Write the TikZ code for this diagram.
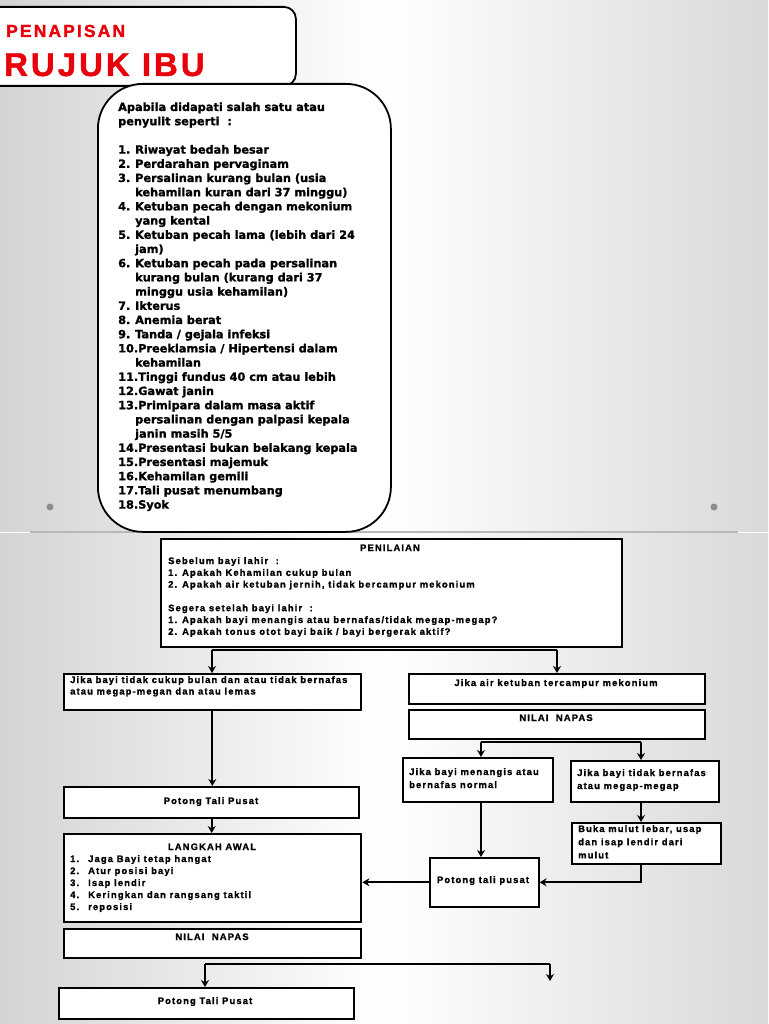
\documentclass[tikz,border=0pt]{standalone}
\usepackage{fontspec}
\usetikzlibrary{arrows.meta}
\setmainfont{Liberation Sans}
\newfontfamily\titlefontA{Liberation Sans}[LetterSpace=12,FakeBold=1.5]
\newfontfamily\titlefontB{Liberation Sans}[LetterSpace=9,FakeBold=1.2]
\newfontfamily\listfont{DejaVu Sans}[FakeBold=1.2]
\newfontfamily\flowfont{Liberation Sans}[LetterSpace=12,FakeBold=1.2]
\definecolor{titlered}{HTML}{E8000B}
\begin{document}
\begin{tikzpicture}[x=1pt,y=-1pt,
  slidebg/.style={left color=black!17, right color=black!15, middle color=white},
  box/.style={draw=black, line width=1.6pt, fill=white, inner sep=0pt, anchor=north west},
  thickbox/.style={box, line width=2.4pt},
  ft/.style={inner sep=0pt, font=\flowfont\bfseries\fontsize{9.4}{11.8}\selectfont},
  ftw/.style={inner sep=0pt, font=\flowfont\bfseries\fontsize{9.4}{13}\selectfont},
  arr/.style={line width=1.8pt, -{Stealth[length=7pt,width=8pt]}},
  ln/.style={line width=1.8pt},
  dot/.style={fill=black!45, draw=none}]
\useasboundingbox (0,0) rectangle (768,1024);
% backgrounds of the two slides
\shade[slidebg] (0,0) rectangle (768,531);
\shade[slidebg] (0,533) rectangle (768,1024);
\draw[black!28, line width=1.2pt] (30,532) -- (738,532);

% ---------- slide 1 ----------
\node[draw=black, line width=1.8pt, fill=white, rounded corners=12pt,
      minimum width=309pt, minimum height=79pt, anchor=north west, inner sep=0pt] (title) at (-14,6) {};
\node[anchor=base west, inner sep=0pt, text=titlered,
      font=\titlefontA\bfseries\fontsize{17.5}{17.5}\selectfont] (t1) at (6,37) {PENAPISAN};
\node[anchor=base west, inner sep=0pt, text=titlered,
      font=\titlefontB\bfseries\fontsize{33}{33}\selectfont] (t2) at (4,76) {RUJUK IBU};

\node[draw=black, line width=1.8pt, fill=white, rounded corners=45pt,
      minimum width=293pt, minimum height=448pt, anchor=north west, inner sep=0pt] (crit) at (97,83) {};
\node[anchor=base west, inner sep=0pt, font=\listfont\bfseries\fontsize{11.3}{14.2}\selectfont] (critlist) at (118,111)
{\begin{tabular}[t]{@{}p{17pt}@{}l@{}}
\multicolumn{2}{@{}l@{}}{Apabila didapati salah satu atau}\\
\multicolumn{2}{@{}l@{}}{penyulit seperti~~:}\\
 & \\
1. & Riwayat bedah besar\\
2. & Perdarahan pervaginam\\
3. & Persalinan kurang bulan (usia\\
 & kehamilan kuran dari 37 minggu)\\
4. & Ketuban pecah dengan mekonium\\
 & yang kental\\
5. & Ketuban pecah lama (lebih dari 24\\
 & jam)\\
6. & Ketuban pecah pada persalinan\\
 & kurang bulan (kurang dari 37\\
 & minggu usia kehamilan)\\
7. & Ikterus\\
8. & Anemia berat\\
9. & Tanda / gejala infeksi\\
\multicolumn{2}{@{}l@{}}{10.Preeklamsia / Hipertensi dalam}\\
 & kehamilan\\
\multicolumn{2}{@{}l@{}}{11.Tinggi fundus 40 cm atau lebih}\\
\multicolumn{2}{@{}l@{}}{12.Gawat janin}\\
\multicolumn{2}{@{}l@{}}{13.Primipara dalam masa aktif}\\
 & persalinan dengan palpasi kepala\\
 & janin masih 5/5\\
\multicolumn{2}{@{}l@{}}{14.Presentasi bukan belakang kepala}\\
\multicolumn{2}{@{}l@{}}{15.Presentasi majemuk}\\
\multicolumn{2}{@{}l@{}}{16.Kehamilan gemili}\\
\multicolumn{2}{@{}l@{}}{17.Tali pusat menumbang}\\
\multicolumn{2}{@{}l@{}}{18.Syok}
\end{tabular}};

\fill[dot] (50,507) circle (3.5);
\fill[dot] (714,507) circle (3.5);

% ---------- slide 2 ----------
\node[box, minimum width=461pt, minimum height=108pt] (pen) at (160,538) {};
\node[ft, anchor=base] (penT) at (390,551) {PENILAIAN};
\node[ft, anchor=base west] (penL) at (168,564)
{\begin{tabular}[t]{@{}l@{}}
Sebelum bayi lahir~~:\\
1. Apakah Kehamilan cukup bulan\\
2. Apakah air ketuban jernih, tidak bercampur mekonium\\
\\
Segera setelah bayi lahir~~:\\
1. Apakah bayi menangis atau bernafas/tidak megap-megap?\\
2. Apakah tonus otot bayi baik / bayi bergerak aktif?
\end{tabular}};

\node[box, minimum width=297pt, minimum height=36pt] (A) at (63,673) {};
\node[ft, anchor=base west, font=\flowfont\bfseries\fontsize{9.4}{11.5}\selectfont] (AT) at (70,683)
{\begin{tabular}[t]{@{}l@{}}Jika bayi tidak cukup bulan dan atau tidak bernafas\\atau megap-megan dan atau lemas\end{tabular}};

\node[box, minimum width=296pt, minimum height=30pt] (B) at (408,673) {};
\node[ft, anchor=base] (BT) at (556,686) {Jika air ketuban tercampur mekonium};

\node[box, minimum width=296pt, minimum height=29pt] (C) at (408,709) {};
\node[ft, anchor=base] (CT) at (556,721) {NILAI~~NAPAS};

\node[box, minimum width=150pt, minimum height=44pt] (D) at (402,757) {};
\node[ftw, anchor=base west] (DT) at (409,775)
{\begin{tabular}[t]{@{}l@{}}Jika bayi menangis atau\\bernafas normal\end{tabular}};

\node[box, minimum width=148pt, minimum height=41pt] (E) at (570,760) {};
\node[ftw, anchor=base west] (ET) at (577,776)
{\begin{tabular}[t]{@{}l@{}}Jika bayi tidak bernafas\\atau megap-megap\end{tabular}};

\node[box, minimum width=149pt, minimum height=41pt] (F) at (571,822) {};
\node[ftw, anchor=base west, font=\flowfont\bfseries\fontsize{9.4}{13.2}\selectfont] (FT) at (578,832)
{\begin{tabular}[t]{@{}l@{}}Buka mulut lebar, usap\\dan isap lendir dari\\mulut\end{tabular}};

\node[box, minimum width=109pt, minimum height=49pt] (G) at (429,857) {};
\node[ft, anchor=base] (GT) at (483,883) {Potong tali pusat};

\node[thickbox, minimum width=295pt, minimum height=31pt] (H) at (63,786) {};
\node[ft, anchor=base] (HT) at (211,804) {Potong Tali Pusat};

\node[thickbox, minimum width=297pt, minimum height=88pt] (I) at (63,833) {};
\node[ft, anchor=base] (IT) at (212,850) {LANGKAH AWAL};
\node[ft, anchor=base west, font=\flowfont\bfseries\fontsize{9.4}{12}\selectfont] (IL) at (70,862)
{\begin{tabular}[t]{@{}p{18pt}@{}l@{}}
1. & Jaga Bayi tetap hangat\\
2. & Atur posisi bayi\\
3. & Isap lendir\\
4. & Keringkan dan rangsang taktil\\
5. & reposisi
\end{tabular}};

\node[box, minimum width=297pt, minimum height=29pt] (J) at (63,928) {};
\node[ft, anchor=base] (JT) at (212,940) {NILAI~~NAPAS};

\node[box, minimum width=295pt, minimum height=31pt] (K) at (58,987) {};
\node[ft, anchor=base] (KT) at (205,1004) {Potong Tali Pusat};

% ---------- connectors ----------
\coordinate (fa) at (212,650);
\coordinate (fb) at (557,650);
\draw[ln] (fa) -- (fb);
\draw[arr] (fa) -- (fa |- A.north);
\draw[arr] (fb) -- (fb |- B.north);

\draw[arr] (A.south) -- (A.south |- H.north);
\draw[arr] (H.south) -- (H.south |- I.north);

\coordinate (fc) at (481,742);
\coordinate (fd) at (641,742);
\draw[ln] (fc) -- (fd);
\draw[arr] (fc) -- (fc |- D.north);
\draw[arr] (fd) -- (fd |- E.north);
\draw[arr] (E.south -| fd) -- (fd |- F.north);
\draw[arr] (D.south -| fc) -- (fc |- G.north);
\draw[arr] (F.south -| fd) |- (G.east);
\draw[arr] (G.west) -- (G.west -| I.east);

\coordinate (fe) at (205,964);
\coordinate (ff) at (550,964);
\coordinate (fg) at (550,981);
\draw[ln] (fe) -- (ff);
\draw[arr] (fe) -- (fe |- K.north);
\draw[arr] (ff) -- (fg);
\end{tikzpicture}
\end{document}
